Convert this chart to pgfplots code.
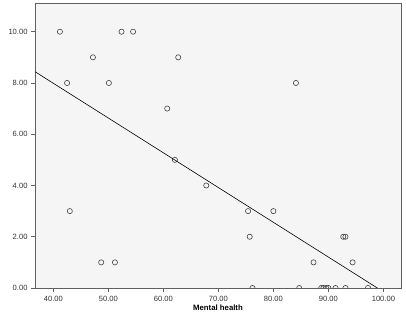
\documentclass[border=0pt]{standalone}
\usepackage{pgfplots}
\pgfplotsset{compat=1.18}
\usepackage{fontspec}
\setmainfont{Liberation Sans}
\definecolor{bgc}{HTML}{F5F5F5}
\definecolor{axc}{HTML}{606060}
\begin{document}
\begin{tikzpicture}
\begin{axis}[
  scale only axis,
  width=366bp, height=285bp,
  xmin=36.67, xmax=103.2,
  ymin=0, ymax=11.12,
  axis background/.style={fill=bgc},
  axis line style={axc, line width=0.8pt},
  xtick={40,50,...,100},
  ytick={0,2,...,10},
  tick style={axc, line width=0.6pt},
  tick align=outside,
  major tick length=4bp,
  xtick pos=bottom, ytick pos=left,
  /pgf/number format/assume math mode=true,
  /pgf/number format/fixed,
  /pgf/number format/fixed zerofill,
  /pgf/number format/precision=2,
  tick label style={font=\fontsize{7.6}{9}\selectfont, text=black!80},
  xticklabel style={yshift=-1bp},
  xlabel={\textbf{Mental health}},
  xlabel style={font=\fontsize{7.8}{9}\selectfont, yshift=4bp},
  clip=true,
  clip marker paths=true,
]
\addplot[only marks, mark=o, mark size=2.6bp, mark options={draw=black!75, line width=0.6pt}] coordinates {
(41.2,10) (42.5,8) (47.2,9) (50.1,8) (52.4,10) (54.5,10) (60.7,7) (62.7,9) (62.1,5)
(84.1,8) (43.0,3) (48.7,1) (51.2,1) (67.8,4)
(75.4,3) (80.0,3) (75.7,2) (92.7,2) (93.1,2) (87.3,1) (94.4,1)
(76.2,0) (84.7,0) (88.7,0) (89.1,0) (89.6,0) (90.0,0) (91.3,0) (93.1,0) (97.2,0)
};
\addplot[black, line width=0.6pt] coordinates {(36.67,8.44) (98.9,0)};
\end{axis}
\path (current axis.south west) ++(-35bp,-32bp) coordinate (bl);
\path (current axis.north east) ++(5bp,3bp) coordinate (tr);
\path (bl) rectangle (tr);
\end{tikzpicture}
\end{document}
